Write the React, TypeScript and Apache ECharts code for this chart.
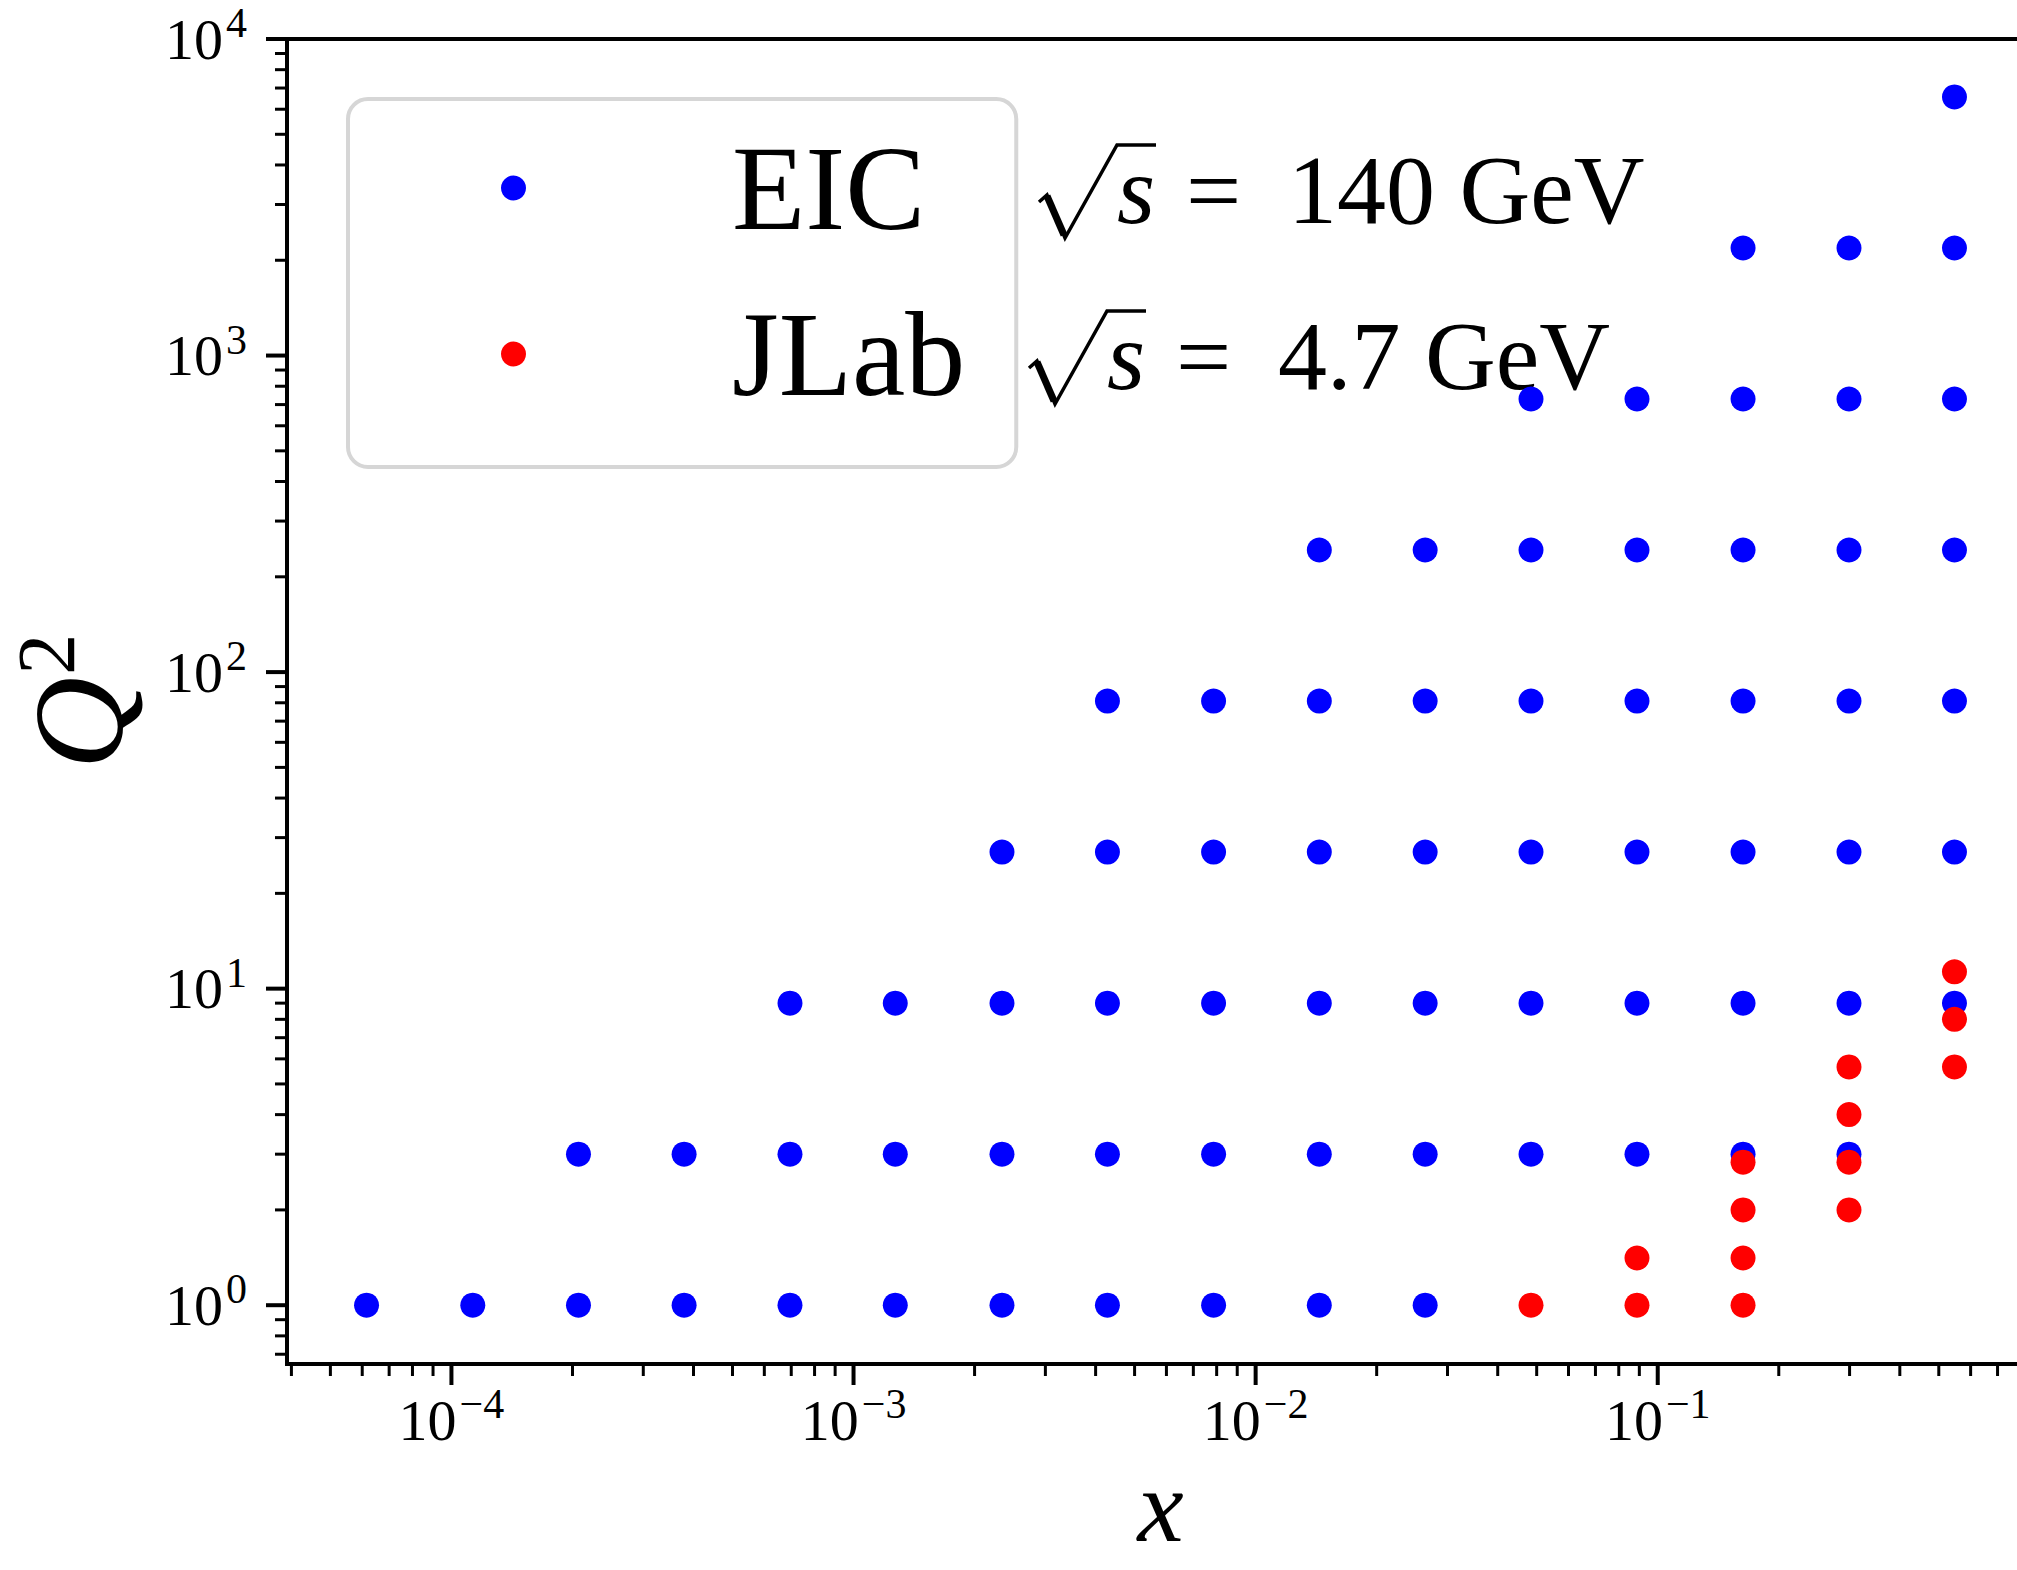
import React, { useEffect, useRef } from 'react';
import * as echarts from 'echarts';

// ---------- data ----------
// x bins shared by both data sets
const X_BINS = [
  6.15e-5, 1.13e-4, 2.07e-4, 3.79e-4, 6.95e-4, 1.27e-3, 2.34e-3, 4.28e-3,
  7.86e-3, 1.44e-2, 2.64e-2, 4.84e-2, 8.88e-2, 0.163, 0.299, 0.547,
];
// EIC (sqrt(s)=140 GeV): one row per Q^2 value, with the x bins it covers
const EIC_Q2 = [1, 3, 9, 27, 81, 243, 729, 2187, 6561];
const EIC_ROW_X = [
  X_BINS.slice(0, 11),
  X_BINS.slice(2, 15),
  X_BINS.slice(4, 16),
  X_BINS.slice(6, 16),
  X_BINS.slice(7, 16),
  X_BINS.slice(9, 16),
  X_BINS.slice(11, 16),
  X_BINS.slice(13, 16),
  X_BINS.slice(15, 16),
];
// JLab (sqrt(s)=4.7 GeV)
const JLAB_X = [
  0.0484, 0.0888, 0.0888, 0.163, 0.163, 0.163, 0.163,
  0.299, 0.299, 0.299, 0.299, 0.547, 0.547, 0.547,
];
const JLAB_Q2 = [
  1, 1, 1.41, 1, 1.41, 2, 2.83,
  2, 2.83, 4, 5.66, 5.66, 8, 11.3,
];

const SERIES_NAMES = ['EIC', 'JLab'];
const ENERGY_LABELS = ['140 GeV', '4.7 GeV'];

// axis ranges
const X_MIN = 3.9e-5;
const X_MAX = 0.8625;
const Y_MIN = 0.652;
const Y_MAX = 1e4;

// ---------- styling ----------
const SERIF = '"Liberation Serif", "DejaVu Serif", serif';

const EIC_POINTS: [number, number][] = [];
EIC_Q2.forEach((q, i) => EIC_ROW_X[i].forEach((x) => EIC_POINTS.push([x, q])));
const JLAB_POINTS: [number, number][] = JLAB_X.map((x, i) => [x, JLAB_Q2[i]]);

// tick positions (axis decoration)
function logTicks(min: number, max: number): [number, number][] {
  const out: [number, number][] = [];
  const e0 = Math.floor(Math.log10(min)) - 1;
  const e1 = Math.ceil(Math.log10(max)) + 1;
  for (let e = e0; e <= e1; e++) {
    for (let k = 1; k <= 9; k++) {
      const v = k * Math.pow(10, e);
      if (v >= min * 0.9999 && v <= max * 1.0001) out.push([v, k === 1 ? 1 : 0]);
    }
  }
  return out;
}
const X_TICKS = logTicks(X_MIN, X_MAX).map(([v, m]) => [v, Y_MIN, m]);
const Y_TICKS = logTicks(Y_MIN, Y_MAX).map(([v, m]) => [X_MIN, v, m]);

const TICK_RICH = {
  b: { fontFamily: SERIF, fontSize: 58, lineHeight: 58, verticalAlign: 'bottom', color: '#000' },
  s: { fontFamily: SERIF, fontSize: 42, lineHeight: 42, verticalAlign: 'bottom', padding: [0, 0, 24, 3], color: '#000' },
};

function powLabel(v: number): string {
  const e = Math.log10(v);
  const r = Math.round(e);
  if (Math.abs(e - r) > 1e-6) return '';
  const s = r < 0 ? '\u2212' + Math.abs(r) : String(r);
  return `{b|10}{s|${s}}`;
}

const MAJOR_LEN = 21;
const MINOR_LEN = 12;

function xTickItem(params: any, api: any) {
  const v = api.value(0);
  const major = api.value(2) === 1;
  const p = api.coord([v, Y_MIN]);
  const cs = params.coordSys;
  const bottom = cs.y + cs.height;
  return {
    type: 'line',
    shape: { x1: p[0], y1: bottom, x2: p[0], y2: bottom + (major ? MAJOR_LEN : MINOR_LEN) },
    style: { stroke: '#000', lineWidth: major ? 4 : 3 },
  };
}
function yTickItem(params: any, api: any) {
  const v = api.value(1);
  const major = api.value(2) === 1;
  const p = api.coord([X_MIN, v]);
  const cs = params.coordSys;
  const left = cs.x;
  return {
    type: 'line',
    shape: { x1: left - (major ? MAJOR_LEN : MINOR_LEN), y1: p[1], x2: left, y2: p[1] },
    style: { stroke: '#000', lineWidth: major ? 4 : 3 },
  };
}

// "sqrt(s) = ... GeV" annotation next to the legend entries
function sqrtLabel(L: number, B: number, energy: string) {
  const fs = 98;
  const mid = B - 0.3375 * fs;
  return {
    type: 'group',
    children: [
      {
        type: 'polyline',
        shape: { points: [[L, B - 21], [L + 8, B - 28], [L + 26, B + 15], [L + 78, B - 78], [L + 117, B - 78]] },
        style: { stroke: '#000', lineWidth: 3.5, fill: null, lineJoin: 'miter' },
      },
      {
        type: 'line',
        shape: { x1: L + 8, y1: B - 27, x2: L + 25, y2: B + 12 },
        style: { stroke: '#000', lineWidth: 7 },
      },
      {
        type: 'text',
        style: { text: 's', x: L + 78, y: mid, font: `italic ${fs}px ${SERIF}`, fill: '#000', align: 'left', verticalAlign: 'middle' },
      },
      {
        type: 'text',
        style: { text: '=', x: L + 147, y: mid, font: `${fs}px ${SERIF}`, fill: '#000', align: 'left', verticalAlign: 'middle' },
      },
      {
        type: 'text',
        style: { text: energy, x: L + 249, y: mid, font: `${fs}px ${SERIF}`, fill: '#000', align: 'left', verticalAlign: 'middle' },
      },
    ],
  };
}

const option: any = {
  animation: false,
  backgroundColor: '#fff',
  grid: {
    left: 287,
    top: 39,
    right: -17,
    bottom: 206,
    outerBoundsMode: 'none',
    containLabel: false,
    show: true,
    borderColor: '#000',
    borderWidth: 4,
    backgroundColor: 'transparent',
  },
  xAxis: {
    type: 'log',
    logBase: 10,
    min: X_MIN,
    max: X_MAX,
    name: 'x',
    nameLocation: 'middle',
    nameGap: 100,
    nameTextStyle: { fontFamily: SERIF, fontStyle: 'italic', fontSize: 104, lineHeight: 66, color: '#000' },
    axisLine: { show: true, lineStyle: { color: '#000', width: 4 } },
    axisTick: { show: false },
    minorTick: { show: false },
    splitLine: { show: false },
    axisLabel: {
      show: true,
      margin: 27,
      formatter: powLabel,
      rich: TICK_RICH,
      color: '#000',
      hideOverlap: false,
    },
  },
  yAxis: {
    type: 'log',
    logBase: 10,
    min: Y_MIN,
    max: Y_MAX,
    name: '{q|Q}{s|2}',
    nameLocation: 'middle',
    nameGap: 144,
    nameTextStyle: {
      rich: {
        q: { fontFamily: SERIF, fontStyle: 'italic', fontSize: 128, lineHeight: 110, verticalAlign: 'bottom', color: '#000' },
        s: { fontFamily: SERIF, fontSize: 82, lineHeight: 50, verticalAlign: 'bottom', padding: [0, 0, 56, 2], color: '#000' },
      },
    },
    axisLine: { show: true, lineStyle: { color: '#000', width: 4 } },
    axisTick: { show: false },
    minorTick: { show: false },
    splitLine: { show: false },
    axisLabel: {
      show: true,
      margin: 40,
      formatter: powLabel,
      rich: TICK_RICH,
      color: '#000',
      hideOverlap: false,
    },
  },
  legend: {
    data: SERIES_NAMES,
    orient: 'vertical',
    left: 348,
    top: 99,
    padding: [29, 51, 53, 153],
    itemWidth: 25,
    itemHeight: 25,
    itemGap: 46,
    icon: 'circle',
    selectedMode: false,
    backgroundColor: '#fff',
    borderColor: '#d6d6d6',
    borderWidth: 4,
    borderRadius: 20,
    formatter: (name: string) => `{t|${name}}`,
    textStyle: {
      color: '#000',
      rich: {
        t: { fontFamily: SERIF, fontSize: 120, lineHeight: 120, padding: [0, 0, 0, 201], color: '#000' },
      },
    },
  },
  graphic: [sqrtLabel(1039, 223, ENERGY_LABELS[0]), sqrtLabel(1029, 389, ENERGY_LABELS[1])],
  series: [
    {
      name: SERIES_NAMES[0],
      type: 'scatter',
      data: EIC_POINTS,
      symbol: 'circle',
      symbolSize: 25,
      itemStyle: { color: '#0000ff', opacity: 1 },
      z: 3,
    },
    {
      name: SERIES_NAMES[1],
      type: 'scatter',
      data: JLAB_POINTS,
      symbol: 'circle',
      symbolSize: 25,
      itemStyle: { color: '#ff0000', opacity: 1 },
      z: 4,
    },
    {
      name: 'xticks',
      type: 'custom',
      data: X_TICKS,
      renderItem: xTickItem,
      silent: true,
      clip: false,
      z: 6,
    },
    {
      name: 'yticks',
      type: 'custom',
      data: Y_TICKS,
      renderItem: yTickItem,
      silent: true,
      clip: false,
      z: 6,
    },
  ],
};

export default function App() {
  const ref = useRef<HTMLDivElement>(null);
  useEffect(() => {
    document.body.style.margin = '0';
    document.body.style.overflow = 'hidden';
    const chart = echarts.init(ref.current!, null, { renderer: 'svg' });
    chart.setOption(option);
    return () => chart.dispose();
  }, []);
  return <div ref={ref} style={{ width: 2017, height: 1570, background: '#fff' }} />;
}
